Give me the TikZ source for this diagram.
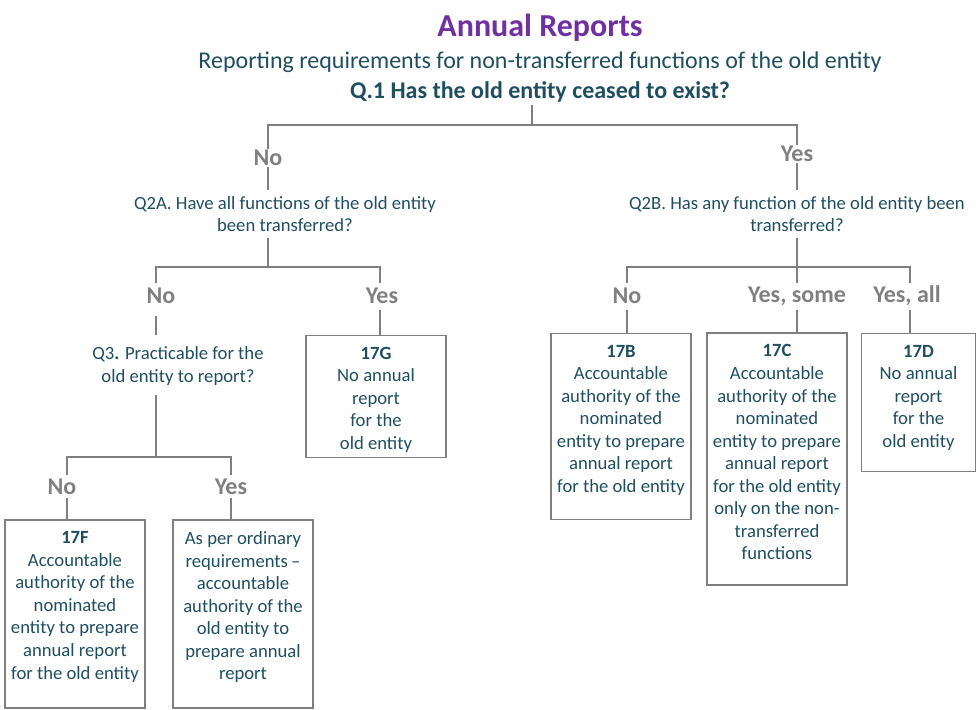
\documentclass[tikz,border=0pt]{standalone}
\usepackage{fontspec}
\setmainfont{Carlito}
\usetikzlibrary{positioning}
\definecolor{txt}{HTML}{1F4E5F}
\definecolor{ttl}{HTML}{7030A0}
\definecolor{lbl}{HTML}{808080}
\definecolor{ln}{HTML}{7F7F7F}
\begin{document}
\begin{tikzpicture}[x=0.75pt, y=-0.75pt,
    q/.style={align=center, text=txt, font=\fontsize{14}{16.9}\selectfont, inner sep=1pt},
    ans/.style={text=lbl, font=\fontsize{18}{20}\selectfont\bfseries, inner sep=1pt},
    box/.style={draw=ln, line width=0.8pt, inner sep=0pt},
    boxtext/.style={q, anchor=north},
    link/.style={draw=ln, line width=1.2pt}
]
    \useasboundingbox (0,0) rectangle (979,710);

    % Heading
    \node[text=ttl, font=\fontsize{24}{28}\selectfont\bfseries] (title) at (540,28) {Annual Reports};
    \node[text=txt, font=\fontsize{18}{21}\selectfont] (sub) at (540,62) {Reporting requirements for non-transferred functions of the old entity};
    \node[text=txt, font=\fontsize{18}{21}\selectfont\bfseries] (q1) at (540,92) {Q.1 Has the old entity ceased to exist?};

    % First level
    \node[ans] (no1) at (268,158) {No};
    \node[ans] (yes1) at (797,154) {Yes};
    \node[q] (q2a) at (285,214) {Q2A. Have all functions of the old entity\\been transferred?};
    \node[q] (q2b) at (797,214) {Q2B. Has any function of the old entity been\\transferred?};

    % Left branch
    \node[ans] (no2) at (161,296) {No};
    \node[ans] (yes2) at (382,296) {Yes};
    \node[q] (q3) at (178,366) {Q3\textbf{.} Practicable for the\\old entity to report?};
    \node[ans] (no3) at (62,487) {No};
    \node[ans] (yes3) at (231,487) {Yes};

    % Right branch
    \node[ans] (no4) at (627,296) {No};
    \node[ans] (some) at (797,296) {Yes, some};
    \node[ans] (all) at (907,296) {Yes, all};

    % Boxes
    \node[box, minimum width=105pt, minimum height=141pt] (bf) at (75,614) {};
    \node[boxtext] at ([yshift=-8pt]bf.north) {\textbf{17F}\\Accountable\\authority of the\\nominated\\entity to prepare\\annual report\\for the old entity};
    \node[box, minimum width=105pt, minimum height=141pt] (by) at (243,614) {};
    \node[boxtext] at ([yshift=-8pt]by.north) {As per ordinary\\requirements\,--\\accountable\\authority of the\\old entity to\\prepare annual\\report};
    \node[box, minimum width=105pt, minimum height=92pt] (bg) at (376,396.5) {};
    \node[boxtext] at ([yshift=-8pt]bg.north) {\textbf{17G}\\No annual\\report\\for the\\old entity};
    \node[box, minimum width=105pt, minimum height=140pt] (bb) at (621,426.5) {};
    \node[boxtext] at ([yshift=-8pt]bb.north) {\textbf{17B}\\Accountable\\authority of the\\nominated\\entity to prepare\\annual report\\for the old entity};
    \node[box, minimum width=105pt, minimum height=189pt] (bc) at (777,459) {};
    \node[boxtext] at ([yshift=-8pt]bc.north) {\textbf{17C}\\Accountable\\authority of the\\nominated\\entity to prepare\\annual report\\for the old entity\\only on the non-\\transferred\\functions};
    \node[box, minimum width=85pt, minimum height=104pt] (bd) at (918.5,402.5) {};
    \node[boxtext] at ([yshift=-8pt]bd.north) {\textbf{17D}\\No annual\\report\\for the\\old entity};

    % Connectors
    \coordinate (j1) at (532,125);
    \draw[link] (532,105) -- (j1);
    \draw[link] (no1.north) -- (268,125) -- (797,125) -- (yes1.north);
    \draw[link] (no1.south) -- (268,190);
    \draw[link] (yes1.south) -- (797,190);

    \draw[link] (268,238) -- (268,267);
    \draw[link] (156,283) -- (156,267) -- (380,267) -- (380,283);
    \draw[link] (156,316) -- (156,335);
    \draw[link] (380,310) -- (bg.north -| 380,0);

    \draw[link] (156,395) -- (156,457);
    \draw[link] (67,475) -- (67,457) -- (231,457) -- (231,475);
    \draw[link] (67,498) -- (bf.north -| 67,0);
    \draw[link] (231,498) -- (by.north -| 231,0);

    \draw[link] (797,238) -- (797,267);
    \draw[link] (627,283) -- (627,267) -- (910,267) -- (910,283);
    \draw[link] (797,267) -- (797,283);
    \draw[link] (627,310) -- (bb.north -| 627,0);
    \draw[link] (797,310) -- (bc.north -| 797,0);
    \draw[link] (910,310) -- (bd.north -| 910,0);
\end{tikzpicture}
\end{document}
